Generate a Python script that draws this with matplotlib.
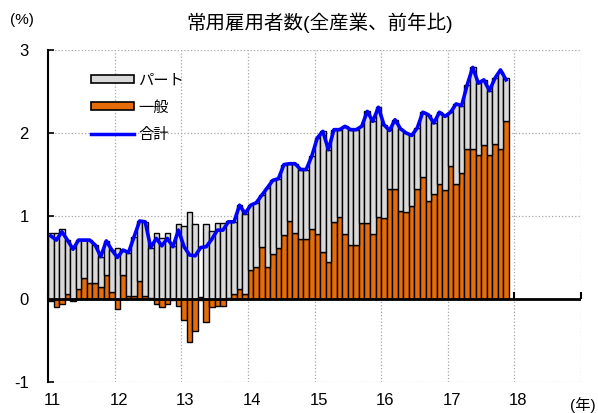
import numpy as np
import matplotlib
matplotlib.use('Agg')
import matplotlib.pyplot as plt
import matplotlib.transforms as mtransforms
from matplotlib.patches import Patch
from matplotlib.lines import Line2D

plt.rcParams['font.family'] = ['Liberation Sans', 'Noto Sans CJK JP', 'DejaVu Sans']

# monthly, Jan 2011 - Nov 2017 (percentage point contributions, %)
general = [-0.02, -0.095, -0.06, 0.06, -0.02, 0.12, 0.25, 0.19, 0.19, 0.14, 0.29, 0.08,
           -0.115, 0.29, 0.04, 0.04, 0.22, 0.04, 0.01, -0.06, -0.095, -0.06, -0.01, -0.08,
           -0.25, -0.52, -0.38, -0.01, -0.28, -0.095, -0.08, -0.08, 0.01, 0.06, 0.12, 0.06,
           0.35, 0.39, 0.63, 0.39, 0.54, 0.62, 0.77, 0.94, 0.79, 0.72, 0.72, 0.84,
           0.78, 0.57, 0.44, 0.93, 0.99, 0.78, 0.65, 0.65, 0.91, 0.91, 0.78, 0.99,
           0.97, 1.33, 1.33, 1.06, 1.05, 1.12, 1.33, 1.47, 1.18, 1.26, 1.39, 1.31,
           1.60, 1.39, 1.52, 1.81, 1.81, 1.73, 1.86, 1.73, 1.87, 1.81, 2.15]
part = [0.79, 0.79, 0.84, 0.65, 0.62, 0.59, 0.46, 0.52, 0.46, 0.37, 0.41, 0.51,
        0.62, 0.30, 0.52, 0.71, 0.72, 0.89, 0.61, 0.79, 0.73, 0.79, 0.64, 0.90,
        0.88, 1.05, 0.90, 0.02, 0.90, 0.82, 0.91, 0.91, 0.93, 0.87, 1.01, 0.96,
        0.78, 0.77, 0.62, 0.95, 0.89, 0.83, 0.85, 0.69, 0.84, 0.84, 0.84, 0.88,
        1.16, 1.45, 1.36, 1.11, 1.05, 1.30, 1.39, 1.39, 1.17, 1.35, 1.36, 1.32,
        1.13, 0.70, 0.83, 0.99, 0.95, 0.85, 0.73, 0.78, 1.04, 0.86, 0.86, 0.89,
        0.65, 0.96, 0.81, 0.77, 0.98, 0.87, 0.78, 0.78, 0.79, 0.92, 0.51]
total = [0.76, 0.71, 0.81, 0.71, 0.60, 0.71, 0.71, 0.71, 0.65, 0.51, 0.70, 0.59,
         0.50, 0.59, 0.56, 0.75, 0.94, 0.93, 0.62, 0.73, 0.64, 0.73, 0.63, 0.83,
         0.63, 0.53, 0.52, 0.62, 0.63, 0.72, 0.83, 0.83, 0.93, 0.93, 1.13, 1.03,
         1.13, 1.16, 1.25, 1.34, 1.43, 1.45, 1.62, 1.63, 1.63, 1.56, 1.56, 1.72,
         1.94, 2.02, 1.80, 2.04, 2.04, 2.08, 2.04, 2.04, 2.08, 2.26, 2.14, 2.31,
         2.10, 2.03, 2.16, 2.05, 2.00, 1.97, 2.06, 2.25, 2.22, 2.12, 2.25, 2.20,
         2.25, 2.35, 2.33, 2.58, 2.79, 2.60, 2.64, 2.51, 2.66, 2.76, 2.64]
years = [11, 12, 13, 14, 15, 16, 17, 18, 19]
year_labels = ['11', '12', '13', '14', '15', '16', '17', '18', '']

general = np.array(general)
part = np.array(part)
total = np.array(total)
n = len(general)
x = 11 + np.arange(n) / 12.0
w = 1 / 12.0

fig = plt.figure(figsize=(5.98, 4.13), dpi=100)
ax = fig.add_axes([0.0803, 0.075, 0.8913, 0.804])

orange = '#e46c0a'
grey = '#d9d9d9'

ax.bar(x, general, width=w, align='edge', color=orange, edgecolor='black', linewidth=1.0, zorder=2)
bottom = np.where(general > 0, general, 0)
ax.bar(x, part, width=w, bottom=bottom, align='edge', color=grey, edgecolor='black', linewidth=1.0, zorder=2)
ax.plot(x + w / 2, total, color='#0000ff', linewidth=2.6, zorder=4)

ax.set_xlim(11, 19)
ax.set_ylim(-1, 3)
ax.set_xticks(years)
ax.set_xticklabels(year_labels, fontsize=12)
ax.set_yticks([-1, 0, 1, 2, 3])
ax.set_yticklabels(['-1', '0', '1', '2', '3'], fontsize=12)
ax.tick_params(axis='x', length=0, pad=8)
ax.tick_params(axis='y', direction='in', length=4, width=1.2, pad=14)
offset = mtransforms.ScaledTranslation(4 / 100, 0, fig.dpi_scale_trans)
for lab in ax.get_xticklabels():
    lab.set_transform(lab.get_transform() + offset)

for s in ['top', 'right', 'bottom']:
    ax.spines[s].set_visible(False)
ax.spines['left'].set_linewidth(1.5)

for yv in [-1, 1, 2, 3]:
    ax.axhline(yv, color='#a6a6a6', linestyle=':', linewidth=0.9, zorder=0)
for xv in years[1:]:
    ax.axvline(xv, color='#a6a6a6', linestyle=':', linewidth=0.9, zorder=0)
ax.axhline(0, color='black', linewidth=2, zorder=5)

secax = ax.secondary_xaxis(0.25)
secax.set_xticks(years)
secax.tick_params(direction='in', length=5, width=1.5, labelbottom=False, labeltop=False)
secax.spines['bottom'].set_visible(False)
secax.spines['top'].set_visible(False)

ax.set_title('常用雇用者数(全産業、前年比)', fontsize=14, pad=15, x=0.51)
fig.text(0.037, 0.951, '(%)', fontsize=11, ha='center', va='center')
fig.text(0.975, 0.020, '(年)', fontsize=11, ha='center', va='center')

handles = [Patch(facecolor=grey, edgecolor='black', linewidth=1.2),
           Patch(facecolor=orange, edgecolor='black', linewidth=1.2),
           Line2D([0], [0], color='#0000ff', linewidth=2.5)]
ax.legend(handles, ['パート', '一般', '合計'], loc='upper left', bbox_to_anchor=(0.055, 0.97),
          frameon=False, fontsize=11, handlelength=2.8, handleheight=0.45,
          handletextpad=0.3, labelspacing=0.85)

fig.savefig('out.png', dpi=100)
